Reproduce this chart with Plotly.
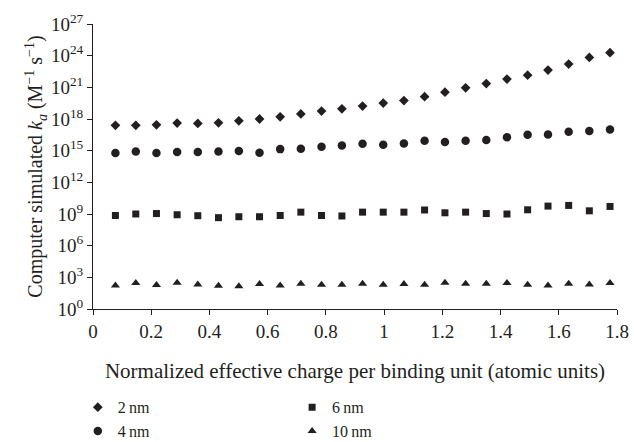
import plotly.graph_objects as go

# Normalized effective charge per binding unit (atomic units)
charge = [0.077, 0.147, 0.218, 0.289, 0.360, 0.431, 0.501, 0.572, 0.643,
          0.714, 0.785, 0.855, 0.926, 0.997, 1.068, 1.139, 1.209, 1.280,
          1.351, 1.422, 1.493, 1.563, 1.634, 1.705, 1.776]

# Simulated association rate constants k_a (M^-1 s^-1) per particle size
ka_2nm = [2.5e17, 2.5e17, 2.8e17, 4.1e17, 3.8e17, 4.4e17, 6.8e17, 1.0e18, 1.6e18,
          3.0e18, 5.6e18, 9.3e18, 1.7e19, 3.2e19, 5.6e19, 1.3e20, 3.5e20, 9.1e20,
          2.3e21, 6.0e21, 1.4e22, 4.3e22, 1.6e23, 6.8e23, 1.9e24]
ka_4nm = [5.9e14, 8.3e14, 5.9e14, 7.4e14, 7.4e14, 8.3e14, 9.1e14, 6.3e14, 1.4e15,
          1.5e15, 2.3e15, 3.1e15, 4.5e15, 3.6e15, 4.8e15, 8.7e15, 6.5e15, 8.7e15,
          1.0e16, 1.9e16, 3.2e16, 3.4e16, 6.2e16, 7.2e16, 1.0e17]
ka_6nm = [7.2e8, 1.0e9, 1.1e9, 8.5e8, 6.9e8, 4.5e8, 5.5e8, 5.5e8, 7.2e8,
          1.5e9, 7.2e8, 6.5e8, 1.5e9, 1.5e9, 1.5e9, 2.4e9, 1.3e9, 1.5e9,
          1.1e9, 1.0e9, 2.5e9, 5.6e9, 6.5e9, 2.0e9, 5.2e9]
ka_10nm = [170, 290, 190, 310, 210, 160, 140, 230, 170,
           250, 200, 200, 250, 200, 230, 200, 310, 250,
           250, 290, 200, 170, 250, 210, 290]

series_names = ["2\u2009nm", "4\u2009nm", "6\u2009nm", "10\u2009nm"]

x_ticks = [0, 0.2, 0.4, 0.6, 0.8, 1.0, 1.2, 1.4, 1.6, 1.8]
x_ticklabels = ["0", "0.2", "0.4", "0.6", "0.8", "1", "1.2", "1.4", "1.6", "1.8"]
y_exponents = [0, 3, 6, 9, 12, 15, 18, 21, 24, 27]

ink = "#231f20"
font_family = "Liberation Serif, Times New Roman, serif"

fig = go.Figure()
fig.add_trace(go.Scatter(x=charge, y=ka_2nm, mode="markers", name=series_names[0],
                         marker=dict(symbol="diamond", size=7.5, color=ink), legend="legend"))
fig.add_trace(go.Scatter(x=charge, y=ka_4nm, mode="markers", name=series_names[1],
                         marker=dict(symbol="circle", size=8.5, color=ink), legend="legend"))
fig.add_trace(go.Scatter(x=charge, y=ka_6nm, mode="markers", name=series_names[2],
                         marker=dict(symbol="square", size=7, color=ink), legend="legend2"))
fig.add_trace(go.Scatter(x=charge, y=ka_10nm, mode="markers", name=series_names[3],
                         marker=dict(symbol="triangle-up", size=8, color=ink), legend="legend2"))

legend_style = dict(bgcolor="rgba(0,0,0,0)", borderwidth=0, tracegroupgap=0,
                    font=dict(family=font_family, size=16, color=ink),
                    orientation="v", yref="container", yanchor="top", xanchor="left")

fig.update_layout(
    template="none",
    width=634, height=442,
    margin=dict(l=93, r=17, t=24, b=133),
    paper_bgcolor="white", plot_bgcolor="white",
    font=dict(family=font_family, size=18, color=ink),
    showlegend=True,
    legend=dict(x=-0.029, y=0.117, **legend_style),
    legend2=dict(x=0.38, y=0.117, **legend_style),
    xaxis=dict(
        range=[0, 1.8], tickvals=x_ticks, ticktext=x_ticklabels, automargin=False,
        showgrid=False, zeroline=False, showline=True, linecolor=ink, linewidth=1,
        ticks="outside", ticklen=5, tickcolor=ink,
        tickfont=dict(family=font_family, size=19, color=ink),
        title=dict(text="Normalized effective charge per binding unit (atomic units)",
                   font=dict(family=font_family, size=21, color=ink), standoff=22),
    ),
    yaxis=dict(
        type="log", range=[0, 27], automargin=False,
        tickvals=[10.0 ** e for e in y_exponents],
        ticktext=["10<sup>%d</sup>" % e for e in y_exponents],
        showgrid=False, zeroline=False, showline=True, linecolor=ink, linewidth=1,
        ticks="outside", ticklen=5, tickcolor=ink,
        tickfont=dict(family=font_family, size=19, color=ink),
        title=dict(text="Computer simulated <i>k</i><sub><i>a</i></sub> (M<sup>\u22121</sup> s<sup>\u22121</sup>)",
                   font=dict(family=font_family, size=20, color=ink), standoff=2),
    ),
)

fig.write_html("out.html")
